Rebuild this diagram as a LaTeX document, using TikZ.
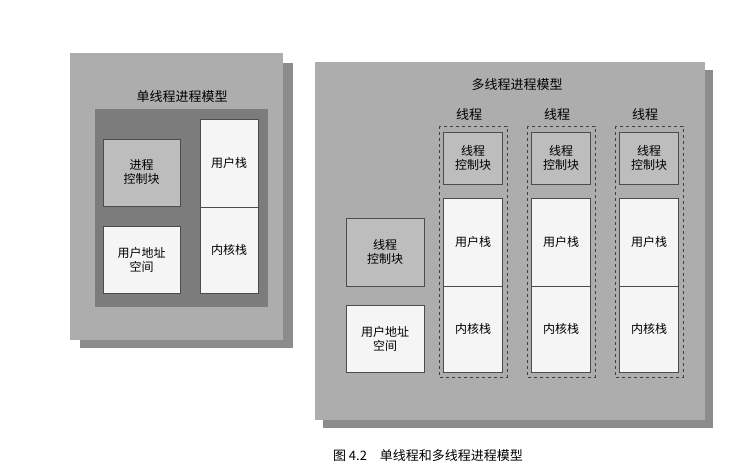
\documentclass[tikz,border=0pt]{standalone}
\usepackage{fontspec}
\setmainfont{Noto Sans CJK SC}
\begin{document}
\begin{tikzpicture}[x=1pt,y=-1pt,
  panel/.style={fill=panelgray,draw=none},
  shadowbox/.style={fill=shadowgray,draw=none},
  graybox/.style={fill=boxgray,draw=black!70,line width=0.6pt,align=center,font=\fontsize{12}{14}\selectfont},
  whitebox/.style={fill=white!96!black,draw=black!70,line width=0.6pt,align=center,font=\fontsize{12}{14}\selectfont},
  thr/.style={draw=black!75,dashed,line width=0.7pt},
  ttl/.style={font=\fontsize{13}{15}\selectfont}]
\definecolor{panelgray}{HTML}{ADADAD}
\definecolor{shadowgray}{HTML}{8C8C8C}
\definecolor{innergray}{HTML}{7C7C7C}
\definecolor{boxgray}{HTML}{BDBDBD}
\useasboundingbox (0,0) rectangle (755,474);
\fill[white] (0,0) rectangle (755,474);
% left panel
\fill[shadowgray] (80,63) rectangle (293,348);
\fill[panelgray] (70,53) rectangle (283,340);
\node[ttl] (t1) at (182,97) {单线程进程模型};
\fill[innergray] (95,109) rectangle (268,307);
\node[graybox,minimum width=77pt,minimum height=67pt] (pcb) at (141.5,172.5) {进程\\控制块};
\node[whitebox,minimum width=77pt,minimum height=67pt] (uas) at (141.5,259.5) {用户地址\\空间};
\node[whitebox,minimum width=58pt,minimum height=88pt] (us) at (229,163) {用户栈};
\node[whitebox,minimum width=58pt,minimum height=86pt] (ks) at (229,250) {内核栈};
% right panel
\fill[shadowgray] (323,70) rectangle (713,428);
\fill[panelgray] (315,62) rectangle (705,420);
\node[ttl] (t2) at (517,85) {多线程进程模型};
\node[graybox,minimum width=78pt,minimum height=68pt] (tcb0) at (385,252) {线程\\控制块};
\node[whitebox,minimum width=78pt,minimum height=67pt] (uas2) at (385,338.5) {用户地址\\空间};
\foreach \i/\cx in {1/473,2/561,3/649}{
  \draw[thr] (\cx-34,126) rectangle (\cx+34,377);
  \node[ttl] (lab\i) at (\cx-4,115) {线程};
  \node[graybox,minimum width=59pt,minimum height=52pt] (tcb\i) at (\cx,158) {线程\\控制块};
  \node[whitebox,minimum width=59pt,minimum height=88pt] (us\i) at (\cx,242) {用户栈};
  \node[whitebox,minimum width=59pt,minimum height=86pt] (ks\i) at (\cx,329) {内核栈};
}
\node[font=\fontsize{13}{15}\selectfont] (cap) at (428,456) {图 4.2\quad 单线程和多线程进程模型};
\end{tikzpicture}
\end{document}
